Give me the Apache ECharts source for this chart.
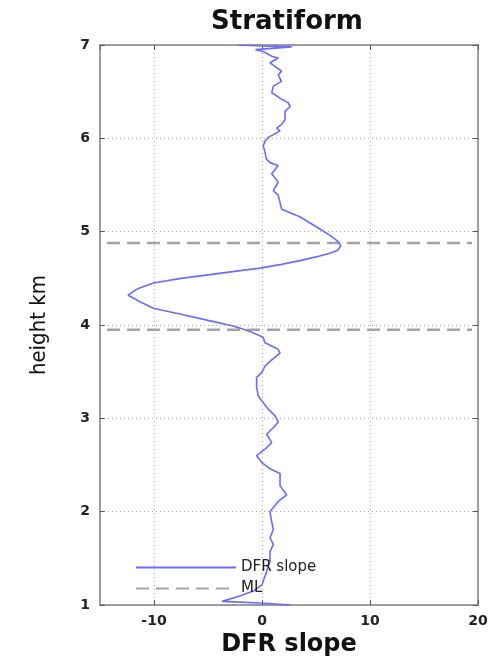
<!DOCTYPE html>
<html>
<head>
<meta charset="utf-8">
<script src="https://cdn.jsdelivr.net/npm/echarts@6/dist/echarts.min.js"></script>
<style>html,body{margin:0;padding:0;background:#fff}#c{width:494px;height:662px}</style>
</head>
<body>
<div id="c"></div>
<script>
// Height (km) of each sample of the profile, bottom to top
const heights = [1.00, 1.02, 1.04, 1.10, 1.15, 1.22, 1.36, 1.47, 1.57, 1.65, 1.72, 1.81, 1.89, 2.00,
  2.11, 2.18, 2.28, 2.41, 2.46, 2.53, 2.60, 2.67, 2.74, 2.83, 2.90, 2.96, 3.03, 3.10, 3.19, 3.24,
  3.33, 3.44, 3.49, 3.56, 3.61, 3.70, 3.74, 3.81, 3.87, 3.93, 3.99, 4.05, 4.11, 4.18, 4.25, 4.32,
  4.39, 4.45, 4.50, 4.54, 4.58, 4.61, 4.65, 4.69, 4.73, 4.77, 4.80, 4.85, 4.90, 4.96, 5.05, 5.16,
  5.24, 5.30, 5.39, 5.44, 5.53, 5.62, 5.71, 5.74, 5.78, 5.85, 5.92, 5.97, 6.01, 6.04, 6.08, 6.11,
  6.15, 6.20, 6.29, 6.34, 6.38, 6.43, 6.49, 6.56, 6.61, 6.68, 6.72, 6.77, 6.81, 6.86, 6.88, 6.93,
  6.95, 6.98, 6.99, 7.00];
// DFR slope at each height
const dfrSlope = [2.6, 0.3, -3.7, -2.0, -0.8, 0.0, 0.43, 0.74, 0.74, 1.05, 0.74, 1.05, 0.9, 0.74,
  1.5, 2.29, 1.67, 1.67, 0.74, -0.03, -0.5, 0.28, 0.9, 0.43, 1.05, 1.5, 1.2, 0.58, -0.03, -0.34,
  -0.5, -0.5, -0.03, 0.28, 0.74, 1.67, 1.5, 0.28, 0.1, -1.1, -2.65, -5.0, -7.3, -10.06, -11.3, -12.4,
  -11.5, -10.06, -7.5, -4.8, -2.2, -0.19, 1.8, 3.5, 5.0, 6.3, 7.0, 7.3, 7.0, 6.3, 5.06, 3.5,
  1.82, 1.7, 1.5, 1.05, 1.5, 0.9, 1.5, 0.74, 0.4, 0.28, 0.12, 0.28, 0.58, 1.05, 1.67, 1.36,
  1.82, 2.13, 2.13, 2.6, 2.44, 1.67, 0.9, 1.05, 1.8, 1.5, 1.82, 1.2, 0.74, 1.5, 0.9, 0.12,
  -0.6, 2.75, 0.0, -2.2];
// Melting layer boundaries (km) and horizontal extent of the dashed lines
const mlHeights = [3.95, 4.88];
const mlXRange = [-14.35, 19.45];

const profile = heights.map((h, i) => [dfrSlope[i], h]);

const chart = echarts.init(document.getElementById('c'));
const axisLineStyle = { color: '#808080', width: 1.5 };
const tickStyle = { color: '#555', width: 1 };
const labelFont = { fontFamily: 'DejaVu Sans', fontWeight: 'bold', fontSize: 14, color: '#222' };
const gridLine = { show: true, lineStyle: { type: [1, 3], color: '#a8a8a8', width: 1 } };

const mlSeries = mlHeights.map(h => ({
  name: 'ML', type: 'line', symbol: 'none', silent: true,
  data: [[mlXRange[0], h], [mlXRange[1], h]],
  lineStyle: { color: '#a3a3a3', width: 2.5, type: [13, 7] },
  itemStyle: { color: '#a3a3a3' },
  z: 2
}));

chart.setOption({
  animation: false,
  backgroundColor: '#fff',
  title: {
    text: 'Stratiform', left: 211, top: 9, padding: 0,
    textStyle: { fontFamily: 'DejaVu Sans', fontWeight: 'bold', fontSize: 26, color: '#111' }
  },
  legend: {
    data: ['DFR slope', 'ML'], orient: 'vertical', left: 135, top: 560,
    itemWidth: 100, itemHeight: 14, itemGap: 6, padding: 0,
    itemStyle: { opacity: 0 },
    textStyle: { fontFamily: 'DejaVu Sans', fontSize: 15, color: '#222' }
  },
  grid: { left: 100, right: 16, top: 45, bottom: 53 },
  xAxis: [{
    type: 'value', min: -15, max: 20, splitNumber: 4, position: 'bottom',
    axisLine: { show: true, onZero: false, lineStyle: axisLineStyle },
    axisTick: { show: true, inside: true, length: 5, lineStyle: tickStyle },
    axisLabel: Object.assign({ showMinLabel: false, margin: 9 }, labelFont),
    splitLine: gridLine,
    name: 'DFR slope', nameLocation: 'middle', nameGap: 27,
    nameTextStyle: { fontFamily: 'DejaVu Sans', fontWeight: 'bold', fontSize: 24, color: '#111' }
  }, {
    type: 'value', min: -15, max: 20, splitNumber: 4, position: 'top',
    axisLine: { show: true, onZero: false, lineStyle: axisLineStyle },
    axisTick: { show: true, inside: true, length: 5, lineStyle: tickStyle },
    axisLabel: { show: false }, splitLine: { show: false }
  }],
  yAxis: [{
    type: 'value', min: 1, max: 7, interval: 1, position: 'left',
    axisLine: { show: true, onZero: false, lineStyle: axisLineStyle },
    axisTick: { show: true, inside: true, length: 5, lineStyle: tickStyle },
    axisLabel: Object.assign({ margin: 10 }, labelFont),
    splitLine: gridLine,
    name: 'height km', nameLocation: 'middle', nameGap: 50, nameRotate: 90,
    nameTextStyle: { fontFamily: 'DejaVu Sans Condensed', fontSize: 22, color: '#111' }
  }, {
    type: 'value', min: 1, max: 7, interval: 1, position: 'right',
    axisLine: { show: true, onZero: false, lineStyle: axisLineStyle },
    axisTick: { show: true, inside: true, length: 5, lineStyle: tickStyle },
    axisLabel: { show: false }, splitLine: { show: false }
  }],
  series: [{
    name: 'DFR slope', type: 'line', symbol: 'none', data: profile,
    lineStyle: { color: '#6b6bff', width: 1.6 }, itemStyle: { color: '#6b6bff' },
    z: 3
  }].concat(mlSeries)
});
</script>
</body>
</html>
